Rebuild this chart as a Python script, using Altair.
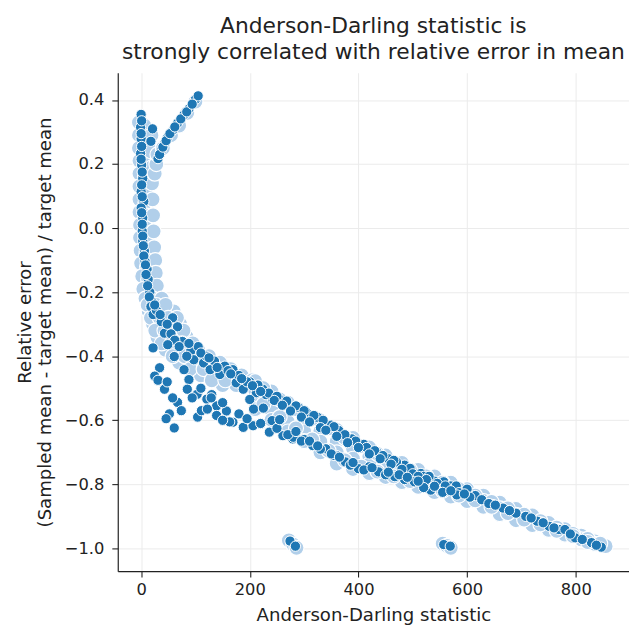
import altair as alt
import pandas as pd

# ---------------- dark (opaque) points, by region ----------------
col_x = [0, -1, 0, -1, 1, 3, 0, 5, 0, 3, 2, 3, 6, 7, 11, 13, 16, 20, 21, 18,
         1, 0, 1, 0, 2, 1, 2, 1, 2, 3, 4, 5, 8, 9, 12, 15, 18, 22]
col_y = [0.355, 0.315, 0.279, 0.233, 0.197, 0.155, 0.114, 0.083, 0.063, 0.032,
         -0.009, -0.04, -0.071, -0.102, -0.128, -0.16, -0.2, -0.23, 0.31, 0.271,
         0.335, 0.295, 0.255, 0.215, 0.175, 0.135, 0.098, 0.048, 0.012, -0.025,
         -0.055, -0.087, -0.115, -0.145, -0.18, -0.215, -0.245, -0.27]

branch_x = [31, 37, 43, 49, 58, 67, 79, 88, 100, 105, 34, 40, 46, 53, 62, 73, 84, 94]
branch_y = [0.217, 0.243, 0.263, 0.284, 0.305, 0.328, 0.354, 0.372, 0.402, 0.413,
            0.23, 0.253, 0.273, 0.295, 0.316, 0.341, 0.363, 0.387]

upper_x = [28, 37, 43, 67, 76, 91, 97, 115, 127, 145, 154, 169, 175, 188, 212, 224, 242, 261, 273,
           255, 304, 325, 364, 388, 437, 455, 485, 515, 557, 594,
           230, 290, 350, 410, 470, 520, 540, 600, 570,
           105, 120, 135, 160, 180, 200, 215, 235, 250, 268, 285, 300, 318, 335, 355, 375, 395,
           415, 430, 445, 465, 495, 530, 580, 615,
           55, 62, 70, 84, 58, 48, 35, 25,
           195, 205, 220, 245, 260, 275, 295, 310, 330, 340, 360, 380, 400, 420, 440, 460,
           480, 500, 510, 525, 545, 560, 585, 605,
           88, 110, 140, 165, 185, 125]
upper_y = [-0.256, -0.292, -0.328, -0.308, -0.354, -0.385, -0.411, -0.421, -0.442, -0.457,
           -0.431, -0.442, -0.483, -0.503, -0.514, -0.503, -0.534, -0.545, -0.565,
           -0.534, -0.575, -0.591, -0.632, -0.658, -0.704, -0.72, -0.74, -0.766, -0.792, -0.823,
           -0.52, -0.56, -0.615, -0.675, -0.73, -0.775, -0.79, -0.815, -0.805,
           -0.37, -0.40, -0.415, -0.445, -0.46, -0.48, -0.49, -0.515, -0.525, -0.54, -0.555,
           -0.57, -0.585, -0.60, -0.62, -0.645, -0.665, -0.685, -0.695, -0.71, -0.725, -0.75,
           -0.775, -0.805, -0.835,
           -0.33, -0.35, -0.37, -0.40, -0.28, -0.30, -0.27, -0.24,
           -0.48, -0.492, -0.51, -0.538, -0.553, -0.571, -0.59, -0.605, -0.623, -0.631, -0.65,
           -0.67, -0.685, -0.705, -0.72, -0.737, -0.753, -0.767, -0.775, -0.785, -0.797, -0.805,
           -0.826, -0.84,
           -0.36, -0.39, -0.435, -0.455, -0.47, -0.405]

lower_x = [49, 61, 79, 88, 103, 121, 139, 157, 169, 188, 206, 236, 261, 279,
           207, 241, 280, 316, 340, 376, 400, 437, 467, 503, 533, 581,
           300, 360, 420,
           110, 130, 150, 180, 195, 220, 250, 270, 295, 330, 355, 385, 410, 450, 485, 520, 555,
           200, 225, 255, 285, 310, 325, 350, 365, 390, 425, 455, 475, 490, 510, 540, 570, 595]
lower_y = [-0.364, -0.401, -0.442, -0.473, -0.519, -0.534, -0.555, -0.571, -0.606, -0.622,
           -0.617, -0.637, -0.648, -0.658,
           -0.565, -0.601, -0.653, -0.679, -0.689, -0.73, -0.751, -0.761, -0.776, -0.792, -0.818, -0.833,
           -0.66, -0.71, -0.745,
           -0.50, -0.52, -0.545, -0.58, -0.595, -0.61, -0.625, -0.645, -0.665, -0.69, -0.71,
           -0.74, -0.755, -0.77, -0.785, -0.81, -0.825,
           -0.535, -0.562, -0.598, -0.635, -0.665, -0.68, -0.705, -0.715, -0.732, -0.748, -0.762,
           -0.77, -0.778, -0.79, -0.806, -0.82, -0.83]

tail_x = [627, 640, 666, 690, 708, 729, 751, 769, 780, 799, 829, 847, 274, 284, 557, 569,
          652, 678, 718, 740, 760, 790, 812, 838]
tail_y = [-0.848, -0.86, -0.874, -0.89, -0.9, -0.915, -0.931, -0.941, -0.941, -0.967, -0.982,
          -0.996, -0.977, -0.993, -0.988, -0.993,
          -0.865, -0.882, -0.905, -0.92, -0.936, -0.955, -0.972, -0.99]

cluster_x = [22, 34, 25, 31, 43, 48, 67, 58, 52, 46, 61, 74, 85, 94, 104, 111, 122, 129, 139, 163, 150]
cluster_y = [-0.374, -0.436, -0.462, -0.475, -0.503, -0.48, -0.544, -0.53, -0.58, -0.595, -0.624,
             -0.57, -0.503, -0.53, -0.59, -0.57, -0.565, -0.53, -0.585, -0.605, -0.60]

# ---------------- light "haze" of densely overlapping points ----------------
haze_col_x = [-4, 6, -4, 5, -4, 6, -3, 7, -3, 7, -3, 8, -3, 8, -3, 8, -2, 9, -2, 9, -1, 10, 0, 11, 2, 13, 4,
              19, 18, 20, 20, 21, 22, 23, 24, 26, 27, 29,
              25, 28, 30, 40, 55, 70, 85, 100]
haze_col_y = [0.33, 0.32, 0.29, 0.28, 0.25, 0.24, 0.21, 0.2, 0.17, 0.16, 0.13, 0.12, 0.09, 0.08, 0.05,
              0.04, 0.01, 0.0, -0.03, -0.04, -0.07, -0.08, -0.11, -0.12, -0.15, -0.16, -0.19,
              0.29, 0.24, 0.19, 0.14, 0.09, 0.04, -0.01, -0.06, -0.1, -0.14, -0.18,
              0.17, 0.2, 0.23, 0.25, 0.29, 0.32, 0.36, 0.395]

haze_bend_x = [8, 22, 38, 14, 28, 45, 60, 22, 38, 55, 72, 30, 48, 66, 84,
               45, 65, 85, 105, 70, 95, 120, 145, 110, 135, 160, 185, 150, 175, 200,
               12, 28, 45, 18, 34, 50, 66, 26, 43, 60, 78, 38, 56, 75, 95,
               58, 80, 102, 125, 90, 115, 140, 165, 130, 155, 180, 205]
haze_bend_y = [-0.22, -0.22, -0.22, -0.26, -0.26, -0.26, -0.26, -0.30, -0.30, -0.30, -0.30,
               -0.34, -0.34, -0.34, -0.34, -0.38, -0.38, -0.38, -0.38, -0.42, -0.42, -0.42, -0.42,
               -0.46, -0.46, -0.46, -0.46, -0.49, -0.49, -0.49,
               -0.24, -0.24, -0.24, -0.28, -0.28, -0.28, -0.28, -0.32, -0.32, -0.32, -0.32,
               -0.36, -0.36, -0.36, -0.36, -0.40, -0.40, -0.40, -0.40, -0.44, -0.44, -0.44, -0.44,
               -0.475, -0.475, -0.475, -0.475]

haze_band_x = [210, 210, 210, 210, 240, 240, 240, 240, 270, 270, 270, 270, 300, 300, 300, 300,
               330, 330, 330, 330, 360, 360, 360, 360, 390, 390, 390, 390, 420, 420, 420, 420,
               450, 450, 450, 450, 480, 480, 480, 510, 510, 510, 540, 540, 540, 570, 570, 570,
               600, 600, 600, 630, 630, 630, 660, 660, 660, 690, 690, 690, 720, 720, 750, 750,
               780, 780, 810, 810, 835, 835, 855]
haze_band_y = [-0.478, -0.507, -0.536, -0.565, -0.51, -0.54, -0.57, -0.599,
               -0.545, -0.575, -0.605, -0.635, -0.575, -0.605, -0.635, -0.665,
               -0.60, -0.633, -0.667, -0.70, -0.63, -0.665, -0.70, -0.735,
               -0.655, -0.688, -0.72, -0.752, -0.685, -0.712, -0.738, -0.765,
               -0.71, -0.733, -0.755, -0.777, -0.733, -0.763, -0.793, -0.755, -0.781, -0.808,
               -0.775, -0.80, -0.824, -0.795, -0.817, -0.838, -0.815, -0.835, -0.852,
               -0.835, -0.852, -0.87, -0.857, -0.875, -0.893, -0.877, -0.895, -0.912,
               -0.897, -0.927, -0.92, -0.942, -0.94, -0.957, -0.96, -0.972, -0.978, -0.986, -0.993]

haze_mid_x = [225, 225, 255, 255, 285, 285, 315, 315, 345, 345, 375, 375, 405, 405, 435, 435,
              465, 465, 495, 495, 525, 525, 555, 555, 585, 585, 615, 615, 645, 645, 675, 675,
              705, 705, 735, 735, 765, 765, 795, 795, 822, 822, 845,
              272, 280, 286, 555, 563, 570]
haze_mid_y = [-0.50, -0.55, -0.535, -0.59, -0.565, -0.625, -0.595, -0.66, -0.625, -0.695,
              -0.655, -0.725, -0.68, -0.745, -0.705, -0.76, -0.735, -0.775, -0.755, -0.79,
              -0.775, -0.805, -0.795, -0.82, -0.815, -0.835, -0.835, -0.85, -0.855, -0.87,
              -0.875, -0.89, -0.895, -0.91, -0.915, -0.925, -0.935, -0.945, -0.955, -0.962,
              -0.97, -0.98, -0.985,
              -0.975, -0.988, -0.998, -0.985, -0.992, -0.998]

x_ticks = [0, 200, 400, 600, 800]
y_ticks = [-1.0, -0.8, -0.6, -0.4, -0.2, 0.0, 0.2, 0.4]

dark = pd.DataFrame({
    "ad": col_x + branch_x + upper_x + lower_x + tail_x + cluster_x,
    "err": col_y + branch_y + upper_y + lower_y + tail_y + cluster_y,
})
haze = pd.DataFrame({
    "ad": haze_col_x + haze_bend_x + haze_band_x + haze_mid_x,
    "err": haze_col_y + haze_bend_y + haze_band_y + haze_mid_y,
})

FONT = "DejaVu Sans"
INK = "#222222"

x_enc = alt.X("ad:Q", scale=alt.Scale(domain=[-43, 898], nice=False, zero=False),
              axis=alt.Axis(title="Anderson-Darling statistic", values=x_ticks, format="d",
                            labelPadding=5, titleX=258.5, titleY=50,
                            titleBaseline="alphabetic", titleAlign="center"))
y_enc = alt.Y("err:Q", scale=alt.Scale(domain=[-1.071, 0.485], nice=False, zero=False),
              axis=alt.Axis(title=["Relative error", "(Sampled mean - target mean) / target mean"],
                            values=y_ticks, format=".1f", labelPadding=8,
                            titleAngle=270, titleX=-88, titleY=252, titleAlign="center",
                            titleBaseline="alphabetic", titleLineHeight=20))

haze_layer = alt.Chart(haze).mark_circle(
    color="#b1cfea", opacity=1, size=230, stroke="white", strokeWidth=1.2
).encode(x=x_enc, y=y_enc)

dark_layer = alt.Chart(dark).mark_circle(
    color="#1f77b4", opacity=1, size=108, stroke="white", strokeWidth=1
).encode(x=x_enc, y=y_enc)

chart = (
    alt.layer(haze_layer, dark_layer)
    .properties(
        width=517,
        height=504,
        autosize=alt.AutoSizeParams(type="none"),
        padding={"left": 111, "top": 62, "right": 0, "bottom": 55},
        title=alt.TitleParams(
            text=["Anderson-Darling statistic is", "strongly correlated with relative error in mean"],
            font=FONT, fontSize=22, fontWeight="normal", color=INK,
            anchor="middle", frame="group", offset=13, baseline="alphabetic", lineHeight=26,
            dy=21,
        ),
    )
    .configure_view(stroke=None)
    .configure_axis(
        labelFont=FONT, labelFontSize=16.5, labelColor=INK,
        titleFont=FONT, titleFontSize=18.3, titleFontWeight="normal", titleColor=INK,
        domainColor=INK, domainWidth=1.2, tickColor=INK, tickSize=6, tickWidth=1.1,
        gridColor="#ebebeb", gridWidth=1, labelFlush=False, labelOverlap=False,
    )
)

chart.save("out.html", embed_options={"renderer": "svg", "actions": False})
